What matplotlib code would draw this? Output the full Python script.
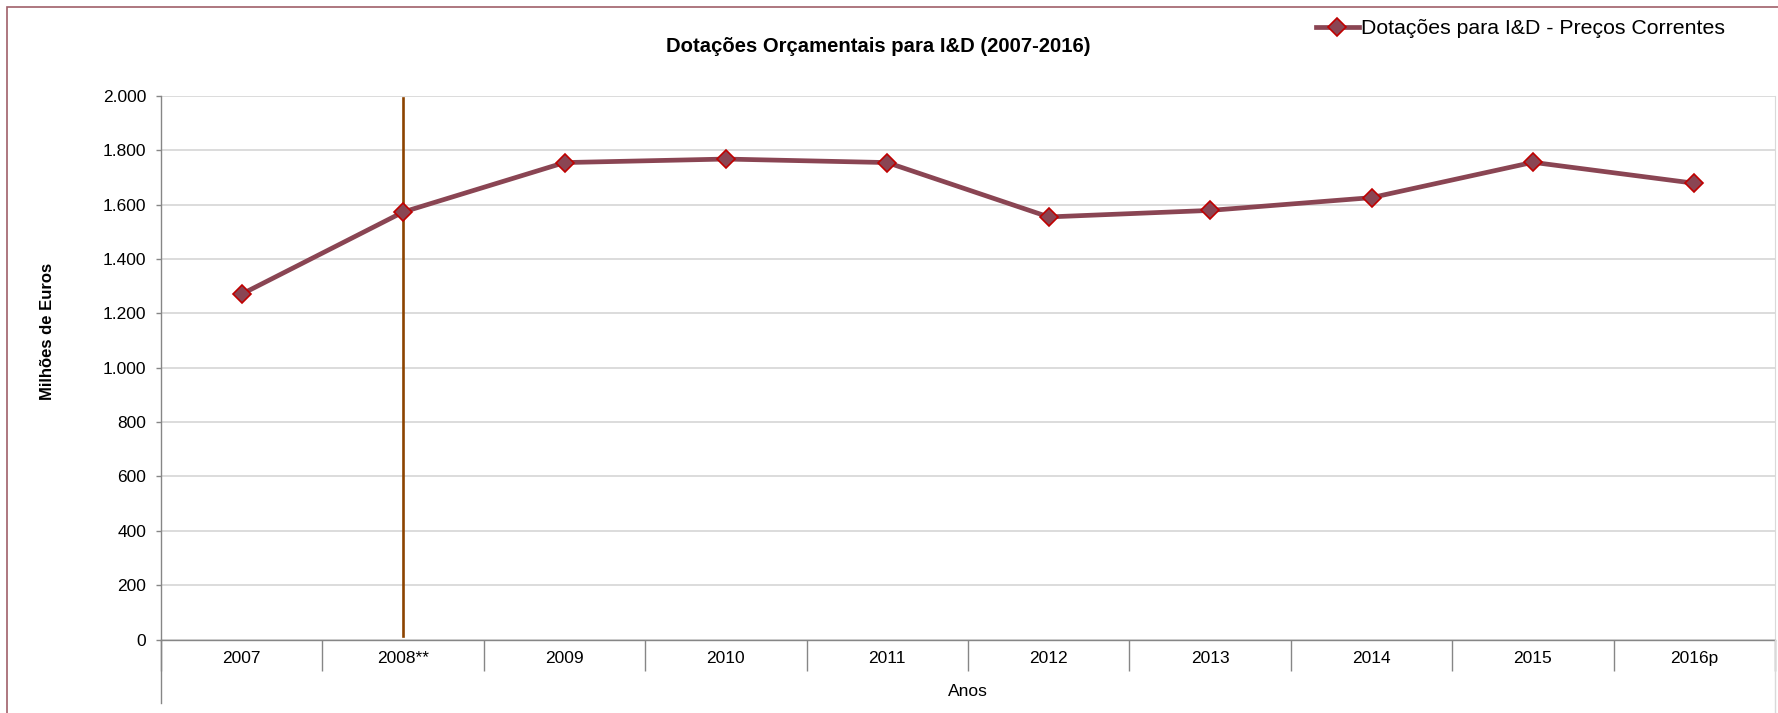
import numpy as np
import matplotlib
matplotlib.use("Agg")
import matplotlib.pyplot as plt
from matplotlib.patches import Rectangle

plt.rcParams['font.family'] = ['Liberation Sans', 'DejaVu Sans']

# data
anos = ['2007', '2008**', '2009', '2010', '2011', '2012', '2013', '2014', '2015', '2016p']
dotacoes = [1271, 1573, 1755, 1768, 1755, 1555, 1579, 1626, 1756, 1679]
marca_ano = 1  # vertical line at 2008**

W, H = 1778, 713
fig = plt.figure(figsize=(W / 100, H / 100), dpi=100)
left, right, top, bottom = 161, 1775, 96, 639.5
ax = fig.add_axes([left / W, 1 - bottom / H, (right - left) / W, (bottom - top) / H])

x = np.arange(len(anos))
ax.plot(x, dotacoes, color='#8A4553', lw=3.4, marker='D', markersize=9,
        markerfacecolor='#8A4553', markeredgecolor='#C00000', markeredgewidth=1.2,
        label='Dotações para I&D - Preços Correntes', zorder=3)
ax.axvline(marca_ano, ymin=0.0066, ymax=0.997, color='#8C4300', lw=1.9, zorder=2)

ax.set_xlim(-0.5, len(anos) - 0.5)
ax.set_ylim(0, 2000)
ax.set_yticks(np.arange(0, 2001, 200))
ax.set_yticklabels([f'{v:,}'.replace(',', '.') for v in range(0, 2001, 200)])
ax.grid(axis='y', color='#D9D9D9', lw=1.3)
ax.set_axisbelow(True)

# category separators as major ticks, labels on minor ticks
ax.set_xticks(np.arange(-0.5, len(anos), 1))
ax.set_xticklabels([])
ax.set_xticks(x, minor=True)
ax.set_xticklabels(anos, minor=True)
ax.tick_params(axis='x', which='major', length=22.5, width=1, color='#868686', direction='out')
ax.tick_params(axis='x', which='minor', length=0, pad=8.5, labelsize=12.5)
ax.tick_params(axis='y', length=3.6, width=1, color='#868686', labelsize=12.5, pad=7)

for s in ['left', 'bottom']:
    ax.spines[s].set_color('#868686')
    ax.spines[s].set_linewidth(1)
ax.spines['top'].set_visible(False)
ax.spines['right'].set_color('#D9D9D9')

# longer outer separators under the axis
fig.add_artist(plt.Line2D([left / W, left / W], [1 - bottom / H, 1 - 703 / H], color='#868686', lw=1))
fig.add_artist(plt.Line2D([right / W, right / W], [1 - bottom / H, 0], color='#D9D9D9', lw=1))

ax.set_xlabel('Anos', fontsize=12.5, labelpad=0)
ax.xaxis.set_label_coords(0.5, -(684 - bottom) / (bottom - top), transform=ax.transAxes)
ax.set_ylabel('Milhões de Euros', fontsize=12, fontweight='bold')
ax.yaxis.set_label_coords(-(left - 55) / (right - left), (bottom - 331) / (bottom - top))

fig.text(878 / W, 1 - 47 / H, 'Dotações Orçamentais para I&D (2007-2016)',
         ha='center', va='center', fontsize=14.6, fontweight='bold')

fig.legend(loc='center left', bbox_to_anchor=(1316 / W, 1 - 29 / H), frameon=False,
           fontsize=15.3, handlelength=2.0, handletextpad=0.1, borderpad=0, borderaxespad=0)

fig.add_artist(Rectangle((6.5 / W, -0.05), 1.1, 1 - 7 / H + 0.05, transform=fig.transFigure,
                         fill=False, edgecolor='#A0606A', lw=1.2))

fig.savefig('out.png', dpi=100)
